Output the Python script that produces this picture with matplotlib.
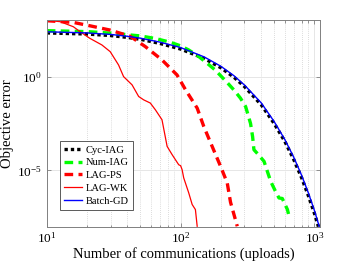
import numpy as np
import matplotlib
matplotlib.use("Agg")
import matplotlib.pyplot as plt
from matplotlib.ticker import LogLocator, NullLocator, FixedLocator, LogFormatterSciNotation, NullFormatter

plt.rcParams['font.family'] = ['Liberation Serif', 'DejaVu Serif']
plt.rcParams['mathtext.fontset'] = 'stix'

# Data: communications (uploads) and log10 of objective error
cyc_n = [10, 20, 30, 40, 50, 70, 100, 150, 200, 250, 300, 400, 500, 600, 700, 800, 900, 1000, 1070]
cyc_log = [2.33, 2.27, 2.19, 2.09, 1.99, 1.77, 1.47, 0.97, 0.47, -0.03, -0.53, -1.5, -2.5, -3.45,
           -4.42, -5.38, -6.35, -7.3, -8.0]

num_n = [10, 20, 30, 42, 50, 65, 84, 100, 115, 135, 158, 180, 199, 225, 250, 280, 306, 333, 345, 353,
         380, 420, 471, 510, 543, 575, 628, 646]
num_log = [2.45, 2.4, 2.32, 2.22, 2.17, 2.03, 1.83, 1.64, 1.42, 1.1, 0.71, 0.37, 0.05, -0.35, -0.71,
           -1.15, -1.6, -2.5, -3.2, -3.9, -4.15, -4.52, -5.59, -6.1, -6.47, -6.5, -7.09, -7.45]

ps_n = [10, 15.8, 21, 29.8, 42, 54.5, 72.6, 94, 109, 133, 149, 172, 199, 223, 236, 265]
ps_log = [2.98, 2.89, 2.71, 2.48, 2.15, 1.6, 0.89, 0.09, -0.71, -1.68, -2.66, -3.72, -4.79, -5.67, -6.7, -7.98]

wk_n = [10, 12.6, 15.8, 17.8, 21, 25.8, 29.8, 34.4, 37.5, 43.4, 48.6, 53, 59.4, 64.8, 72.6,
        79.3, 86.4, 96.8, 100, 102.6, 105.5, 115, 122, 129, 133]
wk_log = [3.0, 2.93, 2.66, 2.39, 2.04, 1.69, 1.33, 0.62, 0.0, -0.44, -1.06, -1.24, -1.41, -1.77, -2.3,
          -3.72, -4.16, -4.7, -4.75, -4.96, -5.4, -6.2, -6.82, -7.09, -7.98]

gd_n = [10, 20, 30, 40, 50, 70, 100, 150, 200, 250, 300, 400, 500, 600, 700, 800, 900, 1000, 1084]
gd_log = [2.39, 2.33, 2.25, 2.15, 2.05, 1.84, 1.55, 1.05, 0.55, 0.05, -0.45, -1.4, -2.4, -3.35,
          -4.3, -5.25, -6.2, -7.15, -7.98]

labels = ['Cyc-IAG', 'Num-IAG', 'LAG-PS', 'LAG-WK', 'Batch-GD']

fig = plt.figure(figsize=(3.54, 2.66), dpi=100)
ax = fig.add_axes([0.132, 0.148, 0.772, 0.777])

ax.plot(cyc_n, 10**np.array(cyc_log), color='black', lw=2.4, linestyle=(0, (1, 0.9)), label=labels[0])
ax.plot(num_n, 10**np.array(num_log), color='#00ff00', lw=2.4, linestyle=(0, (2.6, 1.6)), label=labels[1])
ax.plot(ps_n, 10**np.array(ps_log), color='#ff0000', lw=2.4, linestyle=(0, (2.6, 1.6)), label=labels[2])
ax.plot(wk_n, 10**np.array(wk_log), color='#ff0000', lw=0.9, label=labels[3])
ax.plot(gd_n, 10**np.array(gd_log), color='#0000ff', lw=1.0, label=labels[4])

ax.set_xscale('log')
ax.set_yscale('log')
ax.set_xlim(10, 1100)
ax.set_ylim(1e-8, 1.05e3)

ax.yaxis.set_major_locator(FixedLocator([1e-5, 1e0]))
ax.yaxis.set_major_formatter(LogFormatterSciNotation())
ax.yaxis.set_minor_locator(NullLocator())
ax.xaxis.set_major_locator(LogLocator(base=10, numticks=10))
ax.xaxis.set_minor_locator(LogLocator(base=10, subs=np.arange(2, 10), numticks=20))
ax.xaxis.set_minor_formatter(NullFormatter())

ax.grid(True, which='major', color='#e6e6e6', lw=0.7, linestyle='-')
ax.grid(True, which='minor', axis='x', color='#d0d0d0', lw=0.6, linestyle=(0, (1, 1.5)))
ax.set_axisbelow(True)

for s in ax.spines.values():
    s.set_color('#808080')
    s.set_linewidth(0.7)
ax.tick_params(which='both', direction='in', top=True, right=True, color='#808080',
               labelsize=9.5, width=0.6)
ax.tick_params(which='major', length=3)
ax.tick_params(which='minor', length=1.8)

ax.set_xlabel('Number of communications (uploads)', fontsize=10.5, labelpad=1)
ax.set_ylabel('Objective error', fontsize=10.5, labelpad=2)

leg = ax.legend(loc='lower left', bbox_to_anchor=(0.049, 0.081), borderaxespad=0,
                fontsize=7.6, handlelength=1.7, handletextpad=0.3, labelspacing=0.32,
                borderpad=0.4, fancybox=False, framealpha=1, edgecolor='#404040')
leg.get_frame().set_linewidth(0.6)

fig.savefig('out.png', dpi=100)
